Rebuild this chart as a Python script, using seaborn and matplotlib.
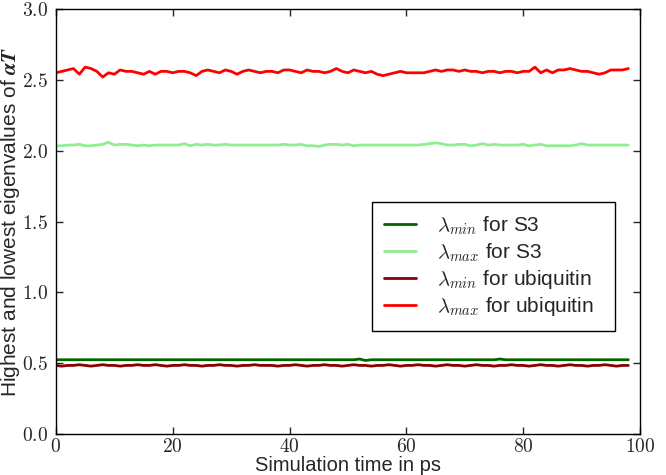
import numpy as np
import pandas as pd
import matplotlib
matplotlib.use("Agg")
import matplotlib.pyplot as plt
import seaborn as sns
from matplotlib.ticker import FuncFormatter

# Data
time_ps = list(range(99))

max_ubiquitin = [2.55, 2.56, 2.57, 2.58, 2.54, 2.59, 2.58, 2.56, 2.52, 2.55,
                 2.54, 2.57, 2.56, 2.56, 2.55, 2.54, 2.56, 2.54, 2.56, 2.56,
                 2.55, 2.56, 2.56, 2.55, 2.53, 2.56, 2.57, 2.56, 2.55, 2.57,
                 2.56, 2.54, 2.56, 2.57, 2.56, 2.55, 2.56, 2.56, 2.55, 2.57,
                 2.57, 2.56, 2.55, 2.57, 2.56, 2.56, 2.55, 2.56, 2.58, 2.56,
                 2.55, 2.57, 2.56, 2.55, 2.56, 2.54, 2.53, 2.54, 2.55, 2.56,
                 2.55, 2.55, 2.55, 2.55, 2.56, 2.57, 2.56, 2.57, 2.57, 2.56,
                 2.57, 2.56, 2.56, 2.55, 2.56, 2.56, 2.55, 2.56, 2.56, 2.55,
                 2.56, 2.56, 2.59, 2.55, 2.57, 2.55, 2.57, 2.57, 2.58, 2.57,
                 2.56, 2.56, 2.55, 2.54, 2.55, 2.57, 2.57, 2.57, 2.58]

max_s3 = [2.035, 2.035, 2.04, 2.04, 2.045, 2.035, 2.035, 2.04, 2.045, 2.06,
          2.04, 2.045, 2.045, 2.04, 2.035, 2.04, 2.035, 2.04, 2.04, 2.04,
          2.04, 2.04, 2.05, 2.035, 2.045, 2.04, 2.045, 2.04, 2.04, 2.045,
          2.04, 2.04, 2.04, 2.04, 2.04, 2.04, 2.04, 2.04, 2.04, 2.045,
          2.04, 2.04, 2.045, 2.035, 2.035, 2.03, 2.04, 2.045, 2.045, 2.04,
          2.045, 2.035, 2.04, 2.04, 2.04, 2.04, 2.04, 2.04, 2.04, 2.04,
          2.04, 2.04, 2.04, 2.045, 2.05, 2.055, 2.05, 2.04, 2.04, 2.045,
          2.045, 2.035, 2.04, 2.05, 2.04, 2.045, 2.04, 2.04, 2.04, 2.04,
          2.045, 2.035, 2.04, 2.045, 2.035, 2.035, 2.035, 2.035, 2.035, 2.04,
          2.05, 2.04, 2.04, 2.04, 2.04, 2.04, 2.04, 2.04, 2.04]

min_s3 = [0.525, 0.525, 0.525, 0.525, 0.525, 0.525, 0.525, 0.525, 0.525, 0.525,
          0.525, 0.525, 0.525, 0.525, 0.525, 0.525, 0.525, 0.525, 0.525, 0.525,
          0.525, 0.525, 0.525, 0.525, 0.525, 0.525, 0.525, 0.525, 0.525, 0.525,
          0.525, 0.525, 0.525, 0.525, 0.525, 0.525, 0.525, 0.525, 0.525, 0.525,
          0.525, 0.525, 0.525, 0.525, 0.525, 0.525, 0.525, 0.525, 0.525, 0.525,
          0.525, 0.525, 0.53, 0.52, 0.525, 0.525, 0.525, 0.525, 0.525, 0.525,
          0.525, 0.525, 0.525, 0.525, 0.525, 0.525, 0.525, 0.525, 0.525, 0.525,
          0.525, 0.525, 0.525, 0.525, 0.525, 0.525, 0.53, 0.525, 0.525, 0.525,
          0.525, 0.525, 0.525, 0.525, 0.525, 0.525, 0.525, 0.525, 0.525, 0.525,
          0.525, 0.525, 0.525, 0.525, 0.525, 0.525, 0.525, 0.525, 0.525]

min_ubiquitin = [0.485, 0.48, 0.485, 0.485, 0.49, 0.485, 0.48, 0.485, 0.49, 0.485,
                 0.485, 0.48, 0.485, 0.485, 0.49, 0.485, 0.485, 0.49, 0.485, 0.48,
                 0.485, 0.485, 0.49, 0.485, 0.485, 0.48, 0.485, 0.485, 0.49, 0.485,
                 0.485, 0.48, 0.485, 0.485, 0.49, 0.485, 0.485, 0.485, 0.48, 0.485,
                 0.485, 0.49, 0.485, 0.48, 0.485, 0.485, 0.49, 0.485, 0.485, 0.48,
                 0.485, 0.49, 0.485, 0.485, 0.48, 0.485, 0.485, 0.49, 0.485, 0.48,
                 0.485, 0.485, 0.49, 0.485, 0.485, 0.48, 0.485, 0.49, 0.485, 0.485,
                 0.48, 0.485, 0.49, 0.485, 0.485, 0.48, 0.485, 0.485, 0.49, 0.485,
                 0.485, 0.48, 0.485, 0.49, 0.485, 0.485, 0.48, 0.485, 0.49, 0.485,
                 0.485, 0.48, 0.485, 0.485, 0.49, 0.485, 0.48, 0.485, 0.485]

labels = [r"$\lambda_{min}$ for S3", r"$\lambda_{max}$ for S3",
          r"$\lambda_{min}$ for ubiquitin", r"$\lambda_{max}$ for ubiquitin"]
colors = ["darkgreen", "lightgreen", "darkred", "red"]

df = pd.DataFrame({
    "time": time_ps * 4,
    "value": min_s3 + max_s3 + min_ubiquitin + max_ubiquitin,
    "series": [labels[0]] * 99 + [labels[1]] * 99 + [labels[2]] * 99 + [labels[3]] * 99,
})

sns.set_style("ticks", {"xtick.direction": "in", "ytick.direction": "in"})
plt.rcParams["font.family"] = ["Liberation Sans", "DejaVu Sans"]
plt.rcParams["mathtext.fontset"] = "cm"

fig = plt.figure(figsize=(6.66, 4.75), dpi=100)
ax = fig.add_axes([0.084, 0.086, 0.877, 0.895])
sns.lineplot(data=df, x="time", y="value", hue="series", hue_order=labels,
             palette=colors, linewidth=2, ax=ax)

ax.set_xlim(0, 100)
ax.set_ylim(0, 3.0)
ax.set_xticks([0, 20, 40, 60, 80, 100])
ax.set_yticks(np.arange(0, 3.01, 0.5))
ax.xaxis.set_major_formatter(FuncFormatter(lambda v, p: r"$%d$" % v))
ax.yaxis.set_major_formatter(FuncFormatter(lambda v, p: r"$%.1f$" % v))
ax.tick_params(axis="both", which="major", labelsize=14, length=5, width=1,
               top=True, right=True)
ax.tick_params(axis="x", pad=3)
ax.tick_params(axis="y", pad=6)
for s in ax.spines.values():
    s.set_color("black")
    s.set_linewidth(1)

ax.set_xlabel("Simulation time in ps", fontsize=14.5, labelpad=0)
ax.set_ylabel(r"Highest and lowest eigenvalues of $\boldsymbol{\alpha T}$",
              fontsize=15, labelpad=0)

leg = ax.legend(loc="upper left", bbox_to_anchor=(0.541, 0.25, 0.416, 0.296),
                mode="expand", fontsize=15, frameon=True, fancybox=False,
                borderaxespad=0, handlelength=1.5, handletextpad=1.0,
                labelspacing=0.2, borderpad=0.6)
leg.get_frame().set_edgecolor("black")
leg.get_frame().set_linewidth(1)
leg.get_frame().set_alpha(1)

fig.savefig("out.png", dpi=100)
